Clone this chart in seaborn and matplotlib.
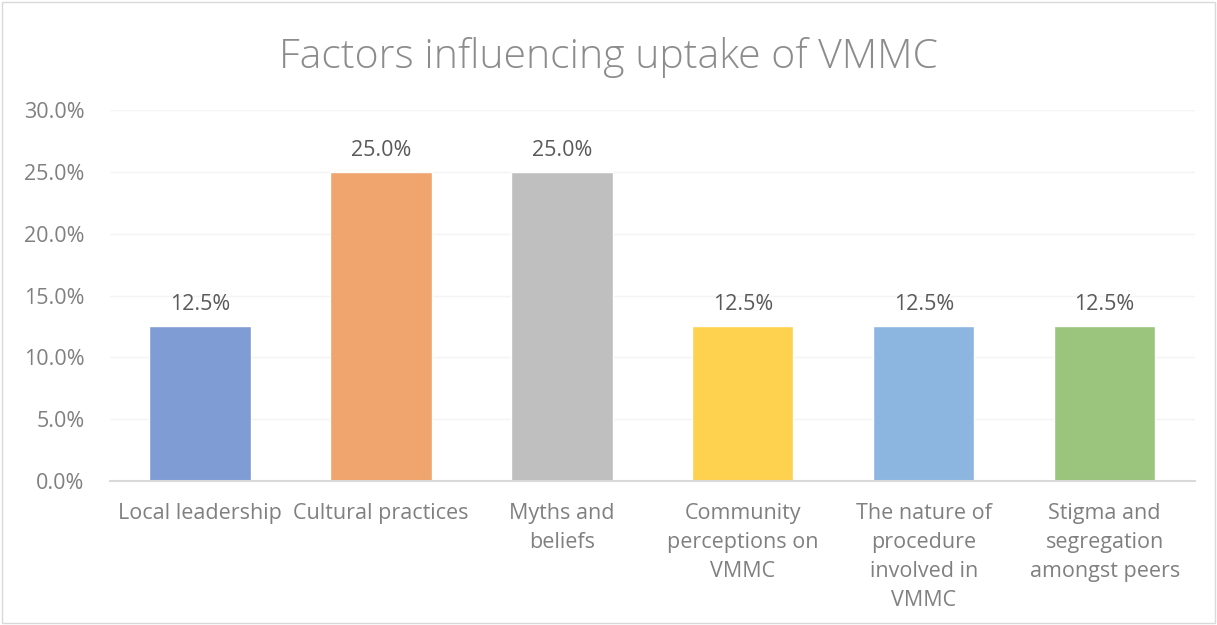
import matplotlib
matplotlib.use("Agg")
import matplotlib.pyplot as plt
import seaborn as sns
import pandas as pd
from matplotlib.ticker import PercentFormatter

# --- data ---
categories = [
    "Local leadership",
    "Cultural practices",
    "Myths and\nbeliefs",
    "Community\nperceptions on\nVMMC",
    "The nature of\nprocedure\ninvolved in\nVMMC",
    "Stigma and\nsegregation\namongst peers",
]
shares = [12.5, 25.0, 25.0, 12.5, 12.5, 12.5]
bar_colors = ["#7f9cd4", "#f0a46e", "#bfbfbf", "#fed24f", "#8cb6e0", "#9bc47c"]

df = pd.DataFrame({"factor": categories, "share": shares})

sns.set_theme(style="white")
plt.rcParams["font.family"] = ["Open Sans", "DejaVu Sans"]

fig = plt.figure(figsize=(12.17, 6.25), dpi=100)
ax = fig.add_axes([0.09, 0.2304, 0.892, 0.5936])

sns.barplot(data=df, x="factor", y="share", hue="factor", palette=bar_colors,
            legend=False, width=0.56, ax=ax, saturation=1)

ax.set_ylim(0, 30)
ax.set_yticks([0, 5, 10, 15, 20, 25, 30])
ax.yaxis.set_major_formatter(PercentFormatter(decimals=1))
ax.grid(axis="y", color="#f4f4f4", linewidth=1)
ax.set_axisbelow(True)
for side in ["top", "right", "left"]:
    ax.spines[side].set_visible(False)
ax.spines["bottom"].set_color("#d9d9d9")
ax.spines["bottom"].set_linewidth(1.5)

ax.tick_params(axis="both", length=0, colors="#808080", labelsize=15.5)
ax.tick_params(axis="x", pad=16)
ax.tick_params(axis="y", pad=18)
for lbl in ax.get_xticklabels():
    lbl.set_linespacing(1.5)
ax.set_xlabel("")
ax.set_ylabel("")

for container in ax.containers:
    ax.bar_label(container, labels=[f"{v:.1f}%" for v in container.datavalues],
                 padding=8, color="#595959", fontsize=15.5)

fig.suptitle("Factors influencing uptake of VMMC", y=0.94, fontsize=29.5,
             color="#8c8c8c", fontweight="light")

# light frame around the chart area
fig.patches.append(plt.Rectangle((0.002, 0.003), 0.996, 0.994, transform=fig.transFigure,
                                 fill=False, edgecolor="#d9d9d9", linewidth=1))

fig.savefig("out.png", dpi=100, facecolor="white")
